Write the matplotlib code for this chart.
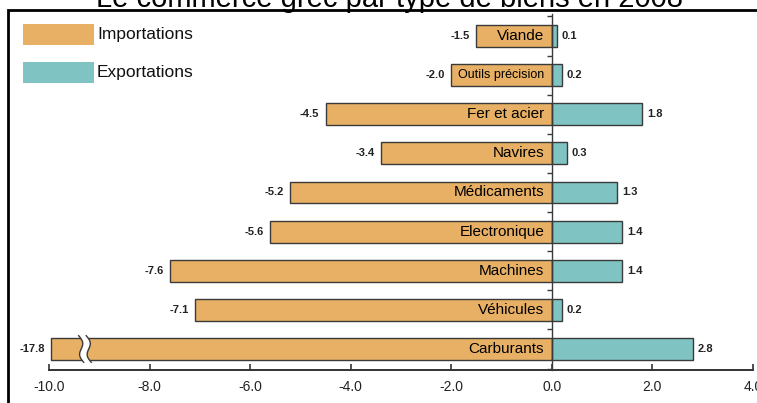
import numpy as np
import matplotlib
matplotlib.use("Agg")
import matplotlib.pyplot as plt
from matplotlib.patches import Rectangle, Polygon

plt.rcParams['font.family'] = ['Liberation Sans', 'DejaVu Sans']

categories = ["Viande", "Outils précision", "Fer et acier", "Navires", "Médicaments",
              "Electronique", "Machines", "Véhicules", "Carburants"]
imports = [-1.5, -2.0, -4.5, -3.4, -5.2, -5.6, -7.6, -7.1, -17.8]
exports = [0.1, 0.2, 1.8, 0.3, 1.3, 1.4, 1.4, 0.2, 2.8]
xticks = [-10.0, -8.0, -6.0, -4.0, -2.0, 0.0, 2.0, 4.0]
title = "Le commerce grec par type de biens en 2008"
legend_labels = ["Importations", "Exportations"]

ORANGE = "#E8B064"
TEAL = "#7FC3C3"
EDGE = "#3a3a3a"
W, H = 757, 403

fig = plt.figure(figsize=(W / 100, H / 100), dpi=100)
fig.patch.set_facecolor("white")

def fx(px):
    return px / W

def fy(py):
    return 1 - py / H

ax = fig.add_axes([fx(49), fy(370), fx(753) - fx(49), fy(14) - fy(370)])
xmin, xmax = -10.0, 4.0
ax.set_xlim(xmin, xmax)
n = len(categories)
ypos = np.arange(n)[::-1]  # Viande at top
ax.set_ylim(-0.537, n - 1 + 0.562)

bar_h = 0.56
imp_draw = [max(v, xmin + 0.04) for v in imports]
ax.barh(ypos, imp_draw, height=bar_h, color=ORANGE, edgecolor=EDGE, linewidth=1.0, zorder=2)
ax.barh(ypos, exports, height=bar_h, color=TEAL, edgecolor=EDGE, linewidth=1.0, zorder=2)

# break marks on the truncated bar
for y, v in zip(ypos, imports):
    if v < xmin:
        xb = -9.36
        s = np.linspace(-0.5, 0.5, 40)
        yy = y + s * (bar_h + 0.12)
        xl = xb + 0.054 * np.sin(np.pi * s * 2) - 0.1 * s
        xr = xl + 0.15
        poly = np.vstack([np.column_stack([xl, yy]), np.column_stack([xr[::-1], yy[::-1]])])
        ax.add_patch(Polygon(poly, closed=True, facecolor="white", edgecolor="none", zorder=3))
        ax.plot(xl, yy, color=EDGE, lw=1.0, zorder=4)
        ax.plot(xr, yy, color=EDGE, lw=1.0, zorder=4)

# labels
for y, name, vi, vd, ve in zip(ypos, categories, imports, imp_draw, exports):
    fs = 9 if len(name) > 13 else 11
    ax.annotate(name, (0, y), xytext=(-5.5, 0), textcoords="offset points",
                ha="right", va="center", fontsize=fs, color="black", zorder=5)
    ax.annotate(f"{vi:.1f}", (vd, y), xytext=(-4.5, 0), textcoords="offset points",
                ha="right", va="center", fontsize=8, fontweight="bold",
                color="#222222", annotation_clip=False, zorder=5)
    ax.annotate(f"{ve:.1f}", (ve, y), xytext=(3.5, 0), textcoords="offset points",
                ha="left", va="center", fontsize=8, fontweight="bold",
                color="#222222", annotation_clip=False, zorder=5)

# axes styling
for sp in ["top", "right"]:
    ax.spines[sp].set_visible(False)
ax.spines["left"].set_position(("data", 0))
ax.spines["left"].set_color(EDGE)
ax.spines["left"].set_linewidth(1.0)
ax.spines["left"].set_zorder(6)
ax.spines["bottom"].set_color("#333333")
ax.spines["bottom"].set_linewidth(1.4)
ax.set_yticks(np.arange(-0.5, n, 1.0))
ax.set_yticklabels([])
ax.tick_params(axis="y", direction="out", length=3.5, width=1.0, color=EDGE)
ax.set_xticks(xticks)
ax.set_xticklabels([f"{t:.1f}" for t in xticks], fontsize=10, color="#222222")
ax.tick_params(axis="x", direction="in", length=4, width=1.2, color="#333333", pad=7)
ax.patch.set_alpha(0)

# frame
fig.add_artist(Rectangle((fx(8), fy(430)), 1.2, fy(10) - fy(430), transform=fig.transFigure,
                         fill=False, edgecolor="black", linewidth=2.0, zorder=0))

# legend
for i, (lab, col) in enumerate(zip(legend_labels, [ORANGE, TEAL])):
    top = 24 + i * 38
    fig.add_artist(Rectangle((fx(23), fy(top + 21)), fx(94) - fx(23), fy(top) - fy(top + 21),
                             transform=fig.transFigure, facecolor=col, edgecolor="none"))
    fig.text(fx(97), fy(top + 10.5), lab, ha="left", va="center", fontsize=12.5, color="#111111")

# title (cut by the top edge as in the reference)
fig.text(fx(390), fy(7), title, ha="center", va="baseline", fontsize=21, color="black")

fig.savefig("out.png", dpi=100)
